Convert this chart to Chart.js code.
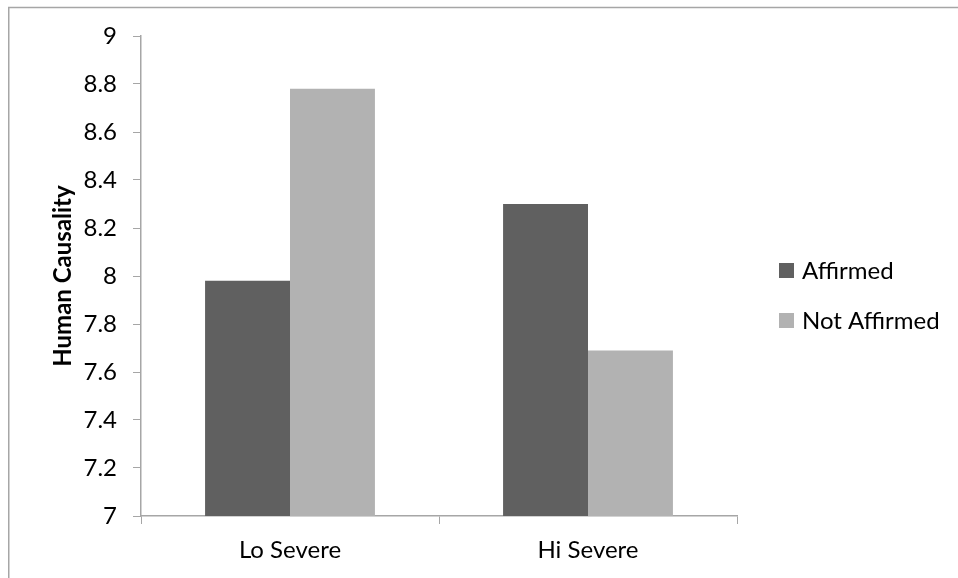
<!DOCTYPE html>
<html>
<head>
<meta charset="utf-8">
<script src="https://cdn.jsdelivr.net/npm/chart.js@4/dist/chart.umd.min.js"></script>
<style>
  html, body { margin: 0; padding: 0; background: #ffffff; }
  #wrap { width: 958px; height: 578px; position: relative; }
</style>
</head>
<body>
<div id="wrap"><canvas id="c" width="958" height="578"></canvas></div>
<script>
// Mean human-causality ratings by severity and affirmation
const categories = ['Lo Severe', 'Hi Severe'];
const affirmed = [7.98, 8.30];
const notAffirmed = [8.78, 7.69];
const seriesNames = ['Affirmed', 'Not Affirmed'];
const seriesColors = ['#606060', '#b2b2b2'];
const yTitle = 'Human Causality';

const FONT = "Lato, 'Open Sans', sans-serif";

// Thin frame along the top and left edges of the chart
const framePlugin = {
  id: 'frame',
  beforeDraw(chart) {
    const ctx = chart.ctx;
    ctx.save();
    ctx.strokeStyle = '#a6a6a6';
    ctx.lineWidth = 1.5;
    ctx.beginPath();
    ctx.moveTo(8.75, chart.height);
    ctx.lineTo(8.75, 7.5);
    ctx.lineTo(chart.width, 7.5);
    ctx.stroke();
    ctx.restore();
  }
};

// Legend drawn to the right of the plot
const sideLegend = {
  id: 'sideLegend',
  afterDraw(chart) {
    const ctx = chart.ctx;
    const area = chart.chartArea;
    const x = 779;
    const rowGap = 50;
    const y0 = (area.top + area.bottom) / 2 - 5.5;
    ctx.save();
    ctx.font = '24px ' + FONT;
    ctx.textBaseline = 'middle';
    ctx.textAlign = 'left';
    chart.data.datasets.forEach((ds, i) => {
      const cy = y0 + i * rowGap;
      ctx.fillStyle = ds.backgroundColor;
      ctx.fillRect(x, cy - 7.5, 15, 15);
      ctx.fillStyle = '#000000';
      ctx.fillText(ds.label, x + 23, cy + 1);
    });
    ctx.restore();
  }
};

new Chart(document.getElementById('c'), {
  type: 'bar',
  data: {
    labels: categories,
    datasets: [
      { label: seriesNames[0], data: affirmed, backgroundColor: seriesColors[0] },
      { label: seriesNames[1], data: notAffirmed, backgroundColor: seriesColors[1] }
    ]
  },
  options: {
    responsive: false,
    animation: false,
    devicePixelRatio: 1,
    layout: { padding: { top: 36, right: 221, bottom: 0, left: 0 } },
    plugins: {
      legend: { display: false },
      tooltip: { enabled: false }
    },
    datasets: {
      bar: { categoryPercentage: 0.57, barPercentage: 1.0 }
    },
    scales: {
      x: {
        grid: {
          display: true,
          offset: true,
          drawOnChartArea: false,
          drawTicks: true,
          tickLength: 8,
          color: '#a6a6a6',
          lineWidth: 1
        },
        border: { display: true, color: '#a6a6a6', width: 1.5 },
        ticks: {
          color: '#000000',
          padding: 12,
          font: { family: FONT, size: 24 }
        },
        afterFit(scale) { scale.height = 62; }
      },
      y: {
        min: 7,
        max: 9,
        ticks: {
          stepSize: 0.2,
          color: '#000000',
          padding: 16,
          font: { family: FONT, size: 24 },
          callback: (v) => String(Number(v.toFixed(1)))
        },
        grid: {
          display: true,
          drawOnChartArea: false,
          drawTicks: true,
          tickLength: 8,
          color: '#a6a6a6'
        },
        border: { display: true, color: '#a6a6a6', width: 1.5 },
        title: {
          display: true,
          text: yTitle,
          color: '#000000',
          font: { family: FONT, size: 24, weight: 'bold' },
          padding: { top: 49, bottom: 4 }
        },
        afterFit(scale) { scale.width = 141; }
      }
    }
  },
  plugins: [framePlugin, sideLegend]
});
</script>
</body>
</html>
